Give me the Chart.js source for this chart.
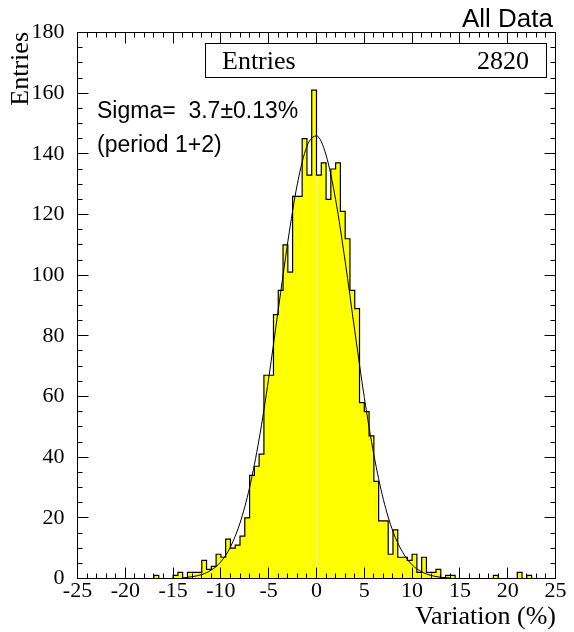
<!DOCTYPE html>
<html>
<head>
<meta charset="utf-8">
<script src="https://cdn.jsdelivr.net/npm/chart.js@4.4.0/dist/chart.umd.min.js"></script>
<style>
  body { margin: 0; background: #fff; }
  canvas { display: block; }
</style>
</head>
<body>
<canvas id="chart" width="574" height="632"></canvas>
<script>
// histogram of the variation, 100 bins of 0.5 % from -25 to 25
var xMin = -25;
var binWidth = 0.5;
var counts = [
  0, 0, 0, 0, 0, 0, 0, 0, 0, 0,
  0, 0, 0, 0, 0, 0, 1, 0, 0, 0,
  1, 2, 0, 2, 2, 2, 6, 3, 4, 8,
  7, 13, 10, 11, 14, 20, 34, 37, 41, 67,
  67, 87, 95, 110, 101, 126, 126, 145, 133, 161,
  133, 137, 125, 135, 137, 121, 112, 95, 89, 58,
  55, 47, 32, 19, 19, 8, 16, 7, 7, 6,
  8, 2, 7, 2, 2, 3, 0, 1, 1, 0,
  0, 0, 0, 0, 0, 0, 0, 1, 0, 0,
  0, 0, 2, 0, 1, 0, 0, 0, 0, 0
];

// gaussian fit curve
var fitX = [-14, -13, -12, -11, -10, -9, -8, -7, -6, -5, -4, -3, -2, -1, 0,
            1, 2, 3, 4, 5, 6, 7, 8, 9, 10, 11, 12, 13, 14];
var fitY = [0.2, 0.6, 1.3, 2.8, 5.5, 10.4, 18.3, 30.0, 46.0, 66.0, 88.6, 111.0, 130.1, 142.5, 145.9,
            139.6, 124.9, 104.5, 81.7, 59.7, 40.8, 26.0, 15.5, 8.7, 4.5, 2.2, 1.0, 0.4, 0.2];

var xTickValues = [-25, -20, -15, -10, -5, 0, 5, 10, 15, 20, 25];
var yTickValues = [0, 20, 40, 60, 80, 100, 120, 140, 160, 180];

var entries = 2820;
var sigmaText = 'Sigma=  3.7\u00b10.13%';
var periodText = '(period 1+2)';

// build datasets
var barPoints = counts.map(function(c, i) {
  return { x: xMin + (i + 0.5) * binWidth, y: c };
});
// outline: one point per bin left edge, stepped so each bin keeps its own height
var outlinePoints = [{ x: xMin, y: 0 }];
counts.forEach(function(c, i) {
  outlinePoints.push({ x: xMin + (i + 1) * binWidth, y: c });
});
var fitPoints = fitX.map(function(x, i) { return { x: x, y: fitY[i] }; });

var serif = "'Liberation Serif', 'Times New Roman', serif";
var sans = "'Liberation Sans', Arial, sans-serif";

function snap(p) { return Math.round(p - 0.5) + 0.5; }

var frameTicks = {
  id: 'frameTicks',
  afterDatasetsDraw: function(chart) {
    var ctx = chart.ctx, a = chart.chartArea;
    var xs = chart.scales.x, ys = chart.scales.y;
    ctx.save();
    // light seam between the two central bins
    var x0 = xs.getPixelForValue(0);
    ctx.strokeStyle = 'rgba(255,255,255,0.85)';
    ctx.lineWidth = 1;
    ctx.beginPath();
    ctx.moveTo(x0, ys.getPixelForValue(Math.min(counts[49], counts[50])) + 1);
    ctx.lineTo(x0, a.bottom - 1);
    ctx.stroke();

    ctx.strokeStyle = '#000';
    ctx.lineWidth = 1;
    ctx.beginPath();
    var v, p, len;
    for (v = -25; v <= 25; v++) {
      p = snap(xs.getPixelForValue(v));
      len = (v % 5 === 0) ? 11 : 5;
      ctx.moveTo(p, a.bottom); ctx.lineTo(p, a.bottom - len);
      ctx.moveTo(p, a.top); ctx.lineTo(p, a.top + len);
    }
    for (v = 0; v <= 180; v += 5) {
      p = snap(ys.getPixelForValue(v));
      len = (v % 20 === 0) ? 11 : 5;
      ctx.moveTo(a.left, p); ctx.lineTo(a.left + len, p);
      ctx.moveTo(a.right, p); ctx.lineTo(a.right - len, p);
    }
    ctx.stroke();
    ctx.strokeRect(a.left, a.top, a.right - a.left, a.bottom - a.top);
    ctx.restore();
  },
  afterDraw: function(chart) {
    var ctx = chart.ctx;
    ctx.save();
    ctx.fillStyle = '#000';
    ctx.textBaseline = 'alphabetic';

    ctx.font = '26px ' + sans;
    ctx.textAlign = 'right';
    ctx.fillText('All Data', 553, 27);

    // stats box
    ctx.fillStyle = '#fff';
    ctx.fillRect(205.5, 43.5, 341, 34);
    ctx.strokeStyle = '#000';
    ctx.lineWidth = 1;
    ctx.strokeRect(205.5, 43.5, 341, 34);
    ctx.fillStyle = '#000';
    ctx.font = '26px ' + serif;
    ctx.textAlign = 'left';
    ctx.fillText('Entries', 222, 69);
    ctx.textAlign = 'right';
    ctx.fillText(String(entries), 529, 69);

    ctx.font = '23px ' + sans;
    ctx.textAlign = 'left';
    ctx.fillText(sigmaText, 97, 118);
    ctx.fillText(periodText, 97, 152);

    // axis titles
    ctx.font = '26px ' + serif;
    ctx.textAlign = 'right';
    ctx.fillText('Variation (%)', 556, 624);
    ctx.translate(28, 32);
    ctx.rotate(-Math.PI / 2);
    ctx.fillText('Entries', 0, 0);
    ctx.restore();
  }
};

new Chart(document.getElementById('chart'), {
  type: 'bar',
  data: {
    datasets: [
      {
        type: 'line',
        data: fitPoints,
        borderColor: '#000',
        borderWidth: 1,
        pointRadius: 0,
        cubicInterpolationMode: 'monotone',
        order: 1
      },
      {
        type: 'line',
        data: outlinePoints,
        borderColor: '#000',
        borderWidth: 1.2,
        pointRadius: 0,
        stepped: 'after',
        order: 2
      },
      {
        type: 'bar',
        data: barPoints,
        backgroundColor: '#ffff00',
        borderWidth: 0,
        barPercentage: 1,
        categoryPercentage: 1,
        order: 3
      }
    ]
  },
  options: {
    responsive: false,
    devicePixelRatio: 1,
    animation: false,
    layout: { padding: { top: 32.5, right: 18.5, left: 0, bottom: 0 } },
    plugins: { legend: { display: false }, tooltip: { enabled: false } },
    scales: {
      x: {
        type: 'linear',
        min: -25,
        max: 25,
        offset: false,
        grid: { display: false, offset: false },
        border: { display: false },
        afterBuildTicks: function(s) { s.ticks = xTickValues.map(function(v) { return { value: v }; }); },
        afterFit: function(s) { s.height = 53.5; },
        ticks: { padding: -8, maxRotation: 0, autoSkip: false, color: '#000', font: { family: serif, size: 22 } }
      },
      y: {
        min: 0,
        max: 180,
        grid: { display: false },
        border: { display: false },
        afterBuildTicks: function(s) { s.ticks = yTickValues.map(function(v) { return { value: v }; }); },
        afterFit: function(s) { s.width = 77.5; },
        ticks: { padding: 5, color: '#000', font: { family: serif, size: 22 } }
      }
    }
  },
  plugins: [frameTicks]
});
</script>
</body>
</html>
